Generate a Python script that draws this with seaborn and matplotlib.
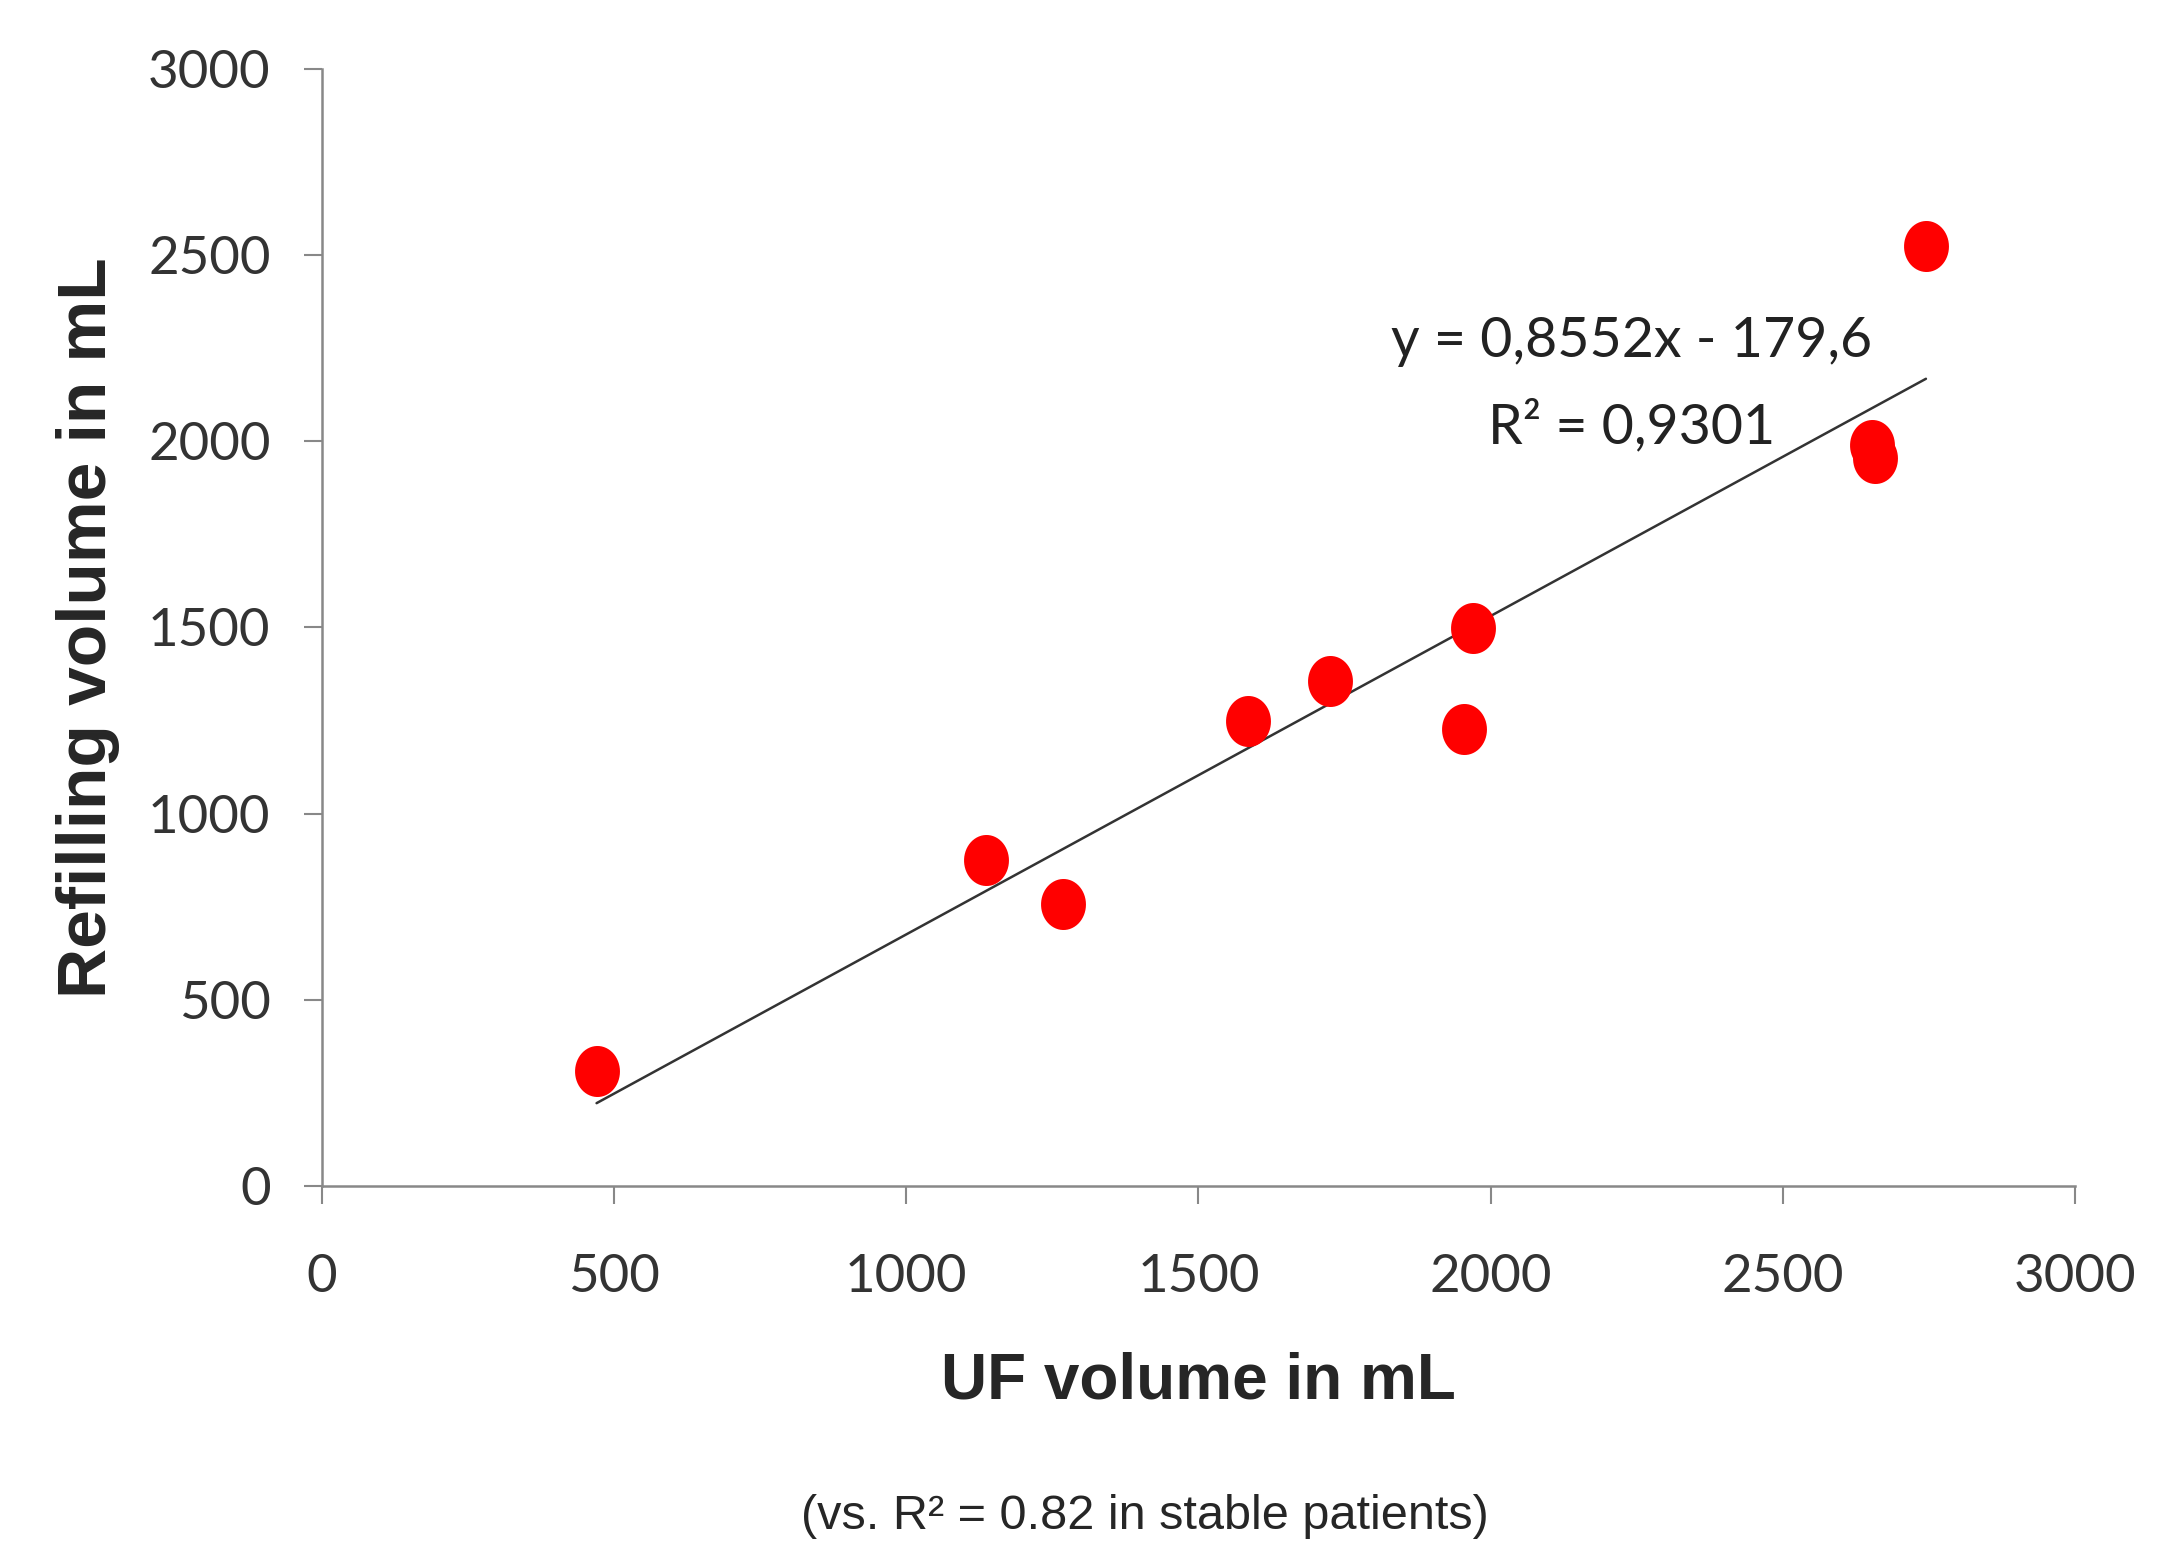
import numpy as np
import pandas as pd
import matplotlib.pyplot as plt
import seaborn as sns

# UF volume vs refilling volume (mL)
uf_volume = [470, 1136, 1269, 1585, 1725, 1970, 1954, 2653, 2658, 2745]
refill_volume = [308, 875, 756, 1250, 1357, 1498, 1227, 1991, 1954, 2525]

# Excel linear trendline shown on the chart
trend_slope = 0.8552
trend_intercept = -179.6
equation_text = "y = 0,8552x - 179,6"
r2_text = "R\u00b2 = 0,9301"
caption_text = "(vs. R\u00b2 = 0.82 in stable patients)"

x_ticks = [0, 500, 1000, 1500, 2000, 2500, 3000]
y_ticks = [0, 500, 1000, 1500, 2000, 2500, 3000]

sns.set_style("ticks")
plt.rcParams["font.family"] = ["Lato", "DejaVu Sans"]

df = pd.DataFrame({"uf": uf_volume, "refill": refill_volume})

fig = plt.figure(figsize=(21.65, 15.43), dpi=100)
ax = fig.add_axes([0.1487, 0.2314, 0.8097, 0.7239])

# slightly tall ellipse marker like the original
t = np.linspace(0, 2 * np.pi, 60)
ellipse = list(zip(0.88 * np.cos(t), np.sin(t)))

# trendline from the stated coefficients over the data range
x_fit = np.array([min(uf_volume), max(uf_volume)])
y_fit = trend_slope * x_fit + trend_intercept
sns.lineplot(x=x_fit, y=y_fit, color="#333333", linewidth=1.8, ax=ax, zorder=2)

sns.scatterplot(
    data=df,
    x="uf",
    y="refill",
    color="#ff0000",
    marker=ellipse,
    s=1350,
    linewidth=0,
    ax=ax,
    zorder=3
)

ax.set_xlim(0, 3000)
ax.set_ylim(0, 3000)
ax.set_xticks(x_ticks)
ax.set_yticks(y_ticks)
ax.tick_params(axis="both", direction="out", length=13, width=1.5,
               color="#888888", labelsize=38, labelcolor="#333333")
ax.tick_params(axis="x", pad=36)
ax.tick_params(axis="y", pad=24)

sns.despine(ax=ax)
for side in ["left", "bottom"]:
    ax.spines[side].set_color("#888888")
    ax.spines[side].set_linewidth(1.8)

ax.set_xlabel("UF volume in mL", fontsize=46, fontweight="bold",
              family="Liberation Sans", labelpad=36)
ax.set_ylabel("Refilling volume in mL", fontsize=50, fontweight="bold",
              family="Liberation Sans", labelpad=20)

ax.text(2242, 2269, equation_text, fontsize=40, color="#222222",
        ha="center", va="center")
ax.text(2242, 2040, r2_text, fontsize=40, color="#222222",
        ha="center", va="center")

fig.text(0.529, 0.017, caption_text, fontsize=35, family="Liberation Sans",
         ha="center", va="center")

fig.savefig("out.png", dpi=100)
